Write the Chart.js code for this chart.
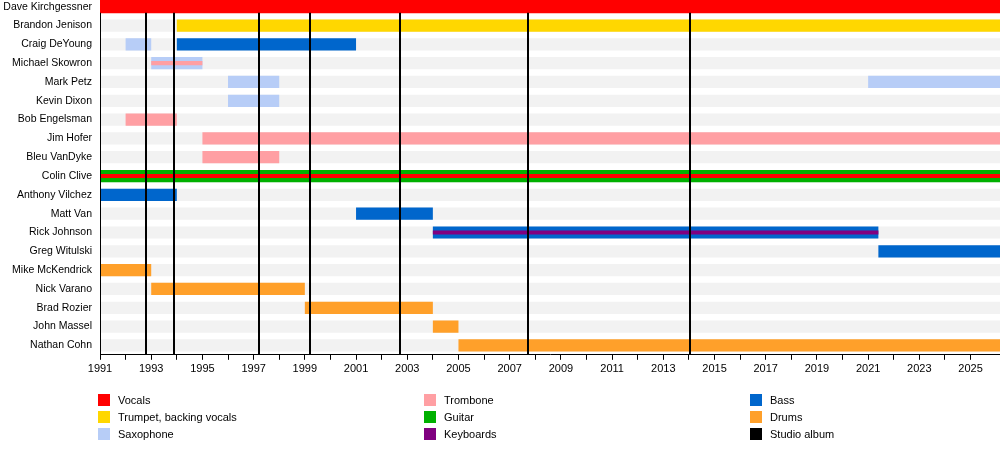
<!DOCTYPE html>
<html>
<head>
<meta charset="utf-8">
<script src="https://cdn.jsdelivr.net/npm/chart.js@4"></script>
<style>
  body { margin: 0; background: #fff; font-family: "Liberation Sans", Arial, sans-serif; overflow: hidden; }
  #wrap { position: relative; width: 1003px; height: 388px; margin-top: -9px; }
  #legend { position: relative; width: 1000px; height: 70px; font-size: 11px; margin-top: -1px; }
  .item { position: absolute; height: 12px; line-height: 12px; }
  .sw { display: inline-block; width: 12px; height: 12px; vertical-align: top; margin-right: 8px; }
</style>
</head>
<body>
<div id="wrap"><canvas id="myChart"></canvas></div>
<div id="legend"></div>
<script>
const members = ['Dave Kirchgessner', 'Brandon Jenison', 'Craig DeYoung', 'Michael Skowron', 'Mark Petz',
  'Kevin Dixon', 'Bob Engelsman', 'Jim Hofer', 'Bleu VanDyke', 'Colin Clive', 'Anthony Vilchez', 'Matt Van',
  'Rick Johnson', 'Greg Witulski', 'Mike McKendrick', 'Nick Varano', 'Brad Rozier', 'John Massel', 'Nathan Cohn'];
const END = 2026.15;
const albums = [1992.8, 1993.9, 1997.2, 1999.2, 2002.7, 2007.7, 2014.05];

// [member index, start, end]
const vocals = [[0, 1991, END]];
const trumpet = [[1, 1994, END]];
const sax = [[2, 1992, 1993], [3, 1993, 1995], [4, 1996, 1998], [4, 2021, END], [5, 1996, 1998]];
const trombone = [[6, 1992, 1994], [7, 1995, END], [8, 1995, 1998]];
const guitar = [[9, 1991, END]];
const bass = [[2, 1994, 2001], [10, 1991, 1994], [11, 2001, 2004], [12, 2004, 2021.4], [13, 2021.4, END]];
const drums = [[14, 1991, 1993], [15, 1993, 1999], [16, 1999, 2004], [17, 2004, 2005], [18, 2005, END]];
// thin stripes for secondary roles
const tromboneStripe = [[3, 1993, 1995]];
const vocalsStripe = [[9, 1991, END]];
const keysStripe = [[12, 2004, 2021.4]];

const legendItems = [
  ['Vocals', '#ff0000'], ['Trumpet, backing vocals', '#ffd700'], ['Saxophone', '#b7cdf7'],
  ['Trombone', '#ff9fa3'], ['Guitar', '#00b000'], ['Keyboards', '#800080'],
  ['Bass', '#0066cc'], ['Drums', '#ffa02a'], ['Studio album', '#000000']
];

function rowsMulti(list) {
  // one dataset per entry so a member can have several spans
  return list.map(r => { const d = members.map(() => null); d[r[0]] = [r[1], r[2]]; return d; });
}
const datasets = [];
datasets.push({ data: members.map(() => [1991, END]), backgroundColor: '#f2f2f2', order: 5, barPercentage: 0.65 });
function add(list, color, order, pct) {
  rowsMulti(list).forEach(d => datasets.push({ data: d, backgroundColor: color, order: order, barPercentage: pct }));
}
add(vocals, '#ff0000', 3, 0.7);
add(trumpet, '#ffd700', 3, 0.65);
add(sax, '#b7cdf7', 3, 0.65);
add(trombone, '#ff9fa3', 3, 0.65);
add(guitar, '#00b000', 3, 0.65);
add(bass, '#0066cc', 3, 0.65);
add(drums, '#ffa02a', 3, 0.65);
add(tromboneStripe, '#ff9fa3', 2, 0.22);
add(vocalsStripe, '#ff0000', 2, 0.22);
add(keysStripe, '#800080', 2, 0.22);

const albumLines = {
  id: 'albumLines',
  afterDatasetsDraw(chart) {
    const { ctx, chartArea, scales } = chart;
    const top = scales.y.getPixelForValue(0) + 6;
    ctx.save();
    ctx.strokeStyle = '#000';
    ctx.lineWidth = 2;
    albums.forEach(a => {
      const x = Math.round(scales.x.getPixelForValue(a));
      ctx.beginPath();
      ctx.moveTo(x, top);
      ctx.lineTo(x, chartArea.bottom);
      ctx.stroke();
    });
    // solid left axis line over the bars
    ctx.lineWidth = 1;
    ctx.beginPath();
    ctx.moveTo(chartArea.left + 0.5, top);
    ctx.lineTo(chartArea.left + 0.5, chartArea.bottom);
    ctx.stroke();
    ctx.restore();
  }
};

new Chart(document.getElementById('myChart'), {
  type: 'bar',
  data: { labels: members, datasets: datasets },
  plugins: [albumLines],
  options: {
    indexAxis: 'y',
    responsive: true,
    maintainAspectRatio: false,
    animation: false,
    datasets: { bar: { grouped: false, categoryPercentage: 1 } },
    layout: { padding: 0 },
    plugins: { legend: { display: false }, tooltip: { enabled: false } },
    scales: {
      x: {
        type: 'linear', min: 1991, max: END,
        grid: { drawOnChartArea: false, color: '#000', tickLength: 5 },
        border: { color: '#000', width: 1 },
        ticks: {
          stepSize: 1, autoSkip: false, maxRotation: 0, color: '#000',
          font: { family: 'Liberation Sans', size: 11 },
          callback: v => (v % 2 === 1 ? String(v) : '')
        }
      },
      y: {
        afterFit: s => { s.width = 100; },
        grid: { display: false },
        border: { color: '#000', width: 1 },
        ticks: { color: '#000', font: { family: 'Liberation Sans', size: 10.5 }, padding: 0 }
      }
    }
  }
});

const leg = document.getElementById('legend');
legendItems.forEach((it, i) => {
  const col = Math.floor(i / 3), row = i % 3;
  const el = document.createElement('div');
  el.className = 'item';
  el.style.left = (98 + col * 326) + 'px';
  el.style.top = (16 + row * 17) + 'px';
  el.innerHTML = '<span class="sw" style="background:' + it[1] + '"></span>' + it[0];
  leg.appendChild(el);
});
</script>
</body>
</html>
